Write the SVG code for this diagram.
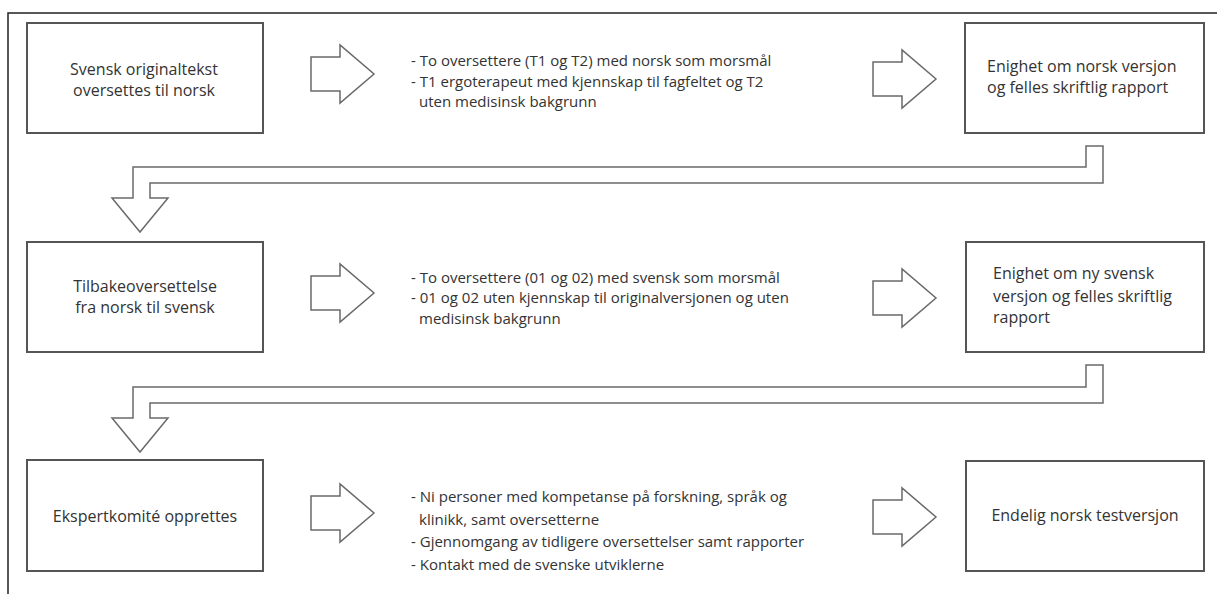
<svg xmlns="http://www.w3.org/2000/svg" width="1217" height="594" viewBox="0 0 1217 594">
<style>
.box{fill:#fff;stroke:#555;stroke-width:2}
.arr{fill:#fff;stroke:#6a6a6a;stroke-width:1.5;stroke-linejoin:miter}
text{font-family:"Open Sans","Noto Sans",sans-serif;font-size:15px;fill:#333}
.b{font-size:16px}
.c{text-anchor:middle}
</style>
<defs>
<path id="ra" d="M0,-17 H29 V-29 L63,0 L29,29 V17 H0 Z"/>
</defs>
<rect width="1217" height="594" fill="#fff"/>
<path d="M8,594 V13 H1217" fill="none" stroke="#222" stroke-width="1.5"/>
<g id="connectors">
<use href="#ra" class="arr" x="311" y="74"/>
<use href="#ra" class="arr" x="873" y="79"/>
<use href="#ra" class="arr" x="311" y="293"/>
<use href="#ra" class="arr" x="873" y="298"/>
<use href="#ra" class="arr" x="311" y="513"/>
<use href="#ra" class="arr" x="873" y="517"/>
<polygon class="arr" points="1086,146 1103,146 1103,183 150,183 150,198 168,198 140,232 112,198 133,198 133,167 1086,167"/>
<polygon class="arr" points="1086,365 1103,365 1103,403 150,403 150,418 168,418 140,452 112,418 133,418 133,387 1086,387"/>
</g>
<g id="n1">
<rect class="box" x="27" y="23" width="236" height="110"/>
<text class="b c" x="144" y="75">Svensk originaltekst</text>
<text class="b c" x="144" y="96">oversettes til norsk</text>
</g>
<g id="n2">
<text x="411" y="66">- To oversettere (T1 og T2) med norsk som morsmål</text>
<text x="411" y="87">- T1 ergoterapeut med kjennskap til fagfeltet og T2</text>
<text x="419" y="107">uten medisinsk bakgrunn</text>
</g>
<g id="n3">
<rect class="box" x="965" y="23" width="239" height="110"/>
<text class="b" x="987" y="72">Enighet om norsk versjon</text>
<text class="b" x="987" y="93">og felles skriftlig rapport</text>
</g>
<g id="n4">
<rect class="box" x="27" y="242" width="236" height="110"/>
<text class="b c" x="145" y="292">Tilbakeoversettelse</text>
<text class="b c" x="145" y="313">fra norsk til svensk</text>
</g>
<g id="n5">
<text x="411" y="283">- To oversettere (01 og 02) med svensk som morsmål</text>
<text x="411" y="303">- 01 og 02 uten kjennskap til originalversjonen og uten</text>
<text x="419" y="324">medisinsk bakgrunn</text>
</g>
<g id="n6">
<rect class="box" x="966" y="242" width="238" height="110"/>
<text class="b" x="993" y="279">Enighet om ny svensk</text>
<text class="b" x="993" y="302">versjon og felles skriftlig</text>
<text class="b" x="993" y="323">rapport</text>
</g>
<g id="n7">
<rect class="box" x="27" y="460" width="236" height="111"/>
<text class="b c" x="145" y="522">Ekspertkomité opprettes</text>
</g>
<g id="n8">
<text x="411" y="502">- Ni personer med kompetanse på forskning, språk og</text>
<text x="419" y="525">klinikk, samt oversetterne</text>
<text x="411" y="547">- Gjennomgang av tidligere oversettelser samt rapporter</text>
<text x="411" y="570">- Kontakt med de svenske utviklerne</text>
</g>
<g id="n9">
<rect class="box" x="966" y="461" width="238" height="110"/>
<text class="b c" x="1085" y="521">Endelig norsk testversjon</text>
</g>
</svg>
